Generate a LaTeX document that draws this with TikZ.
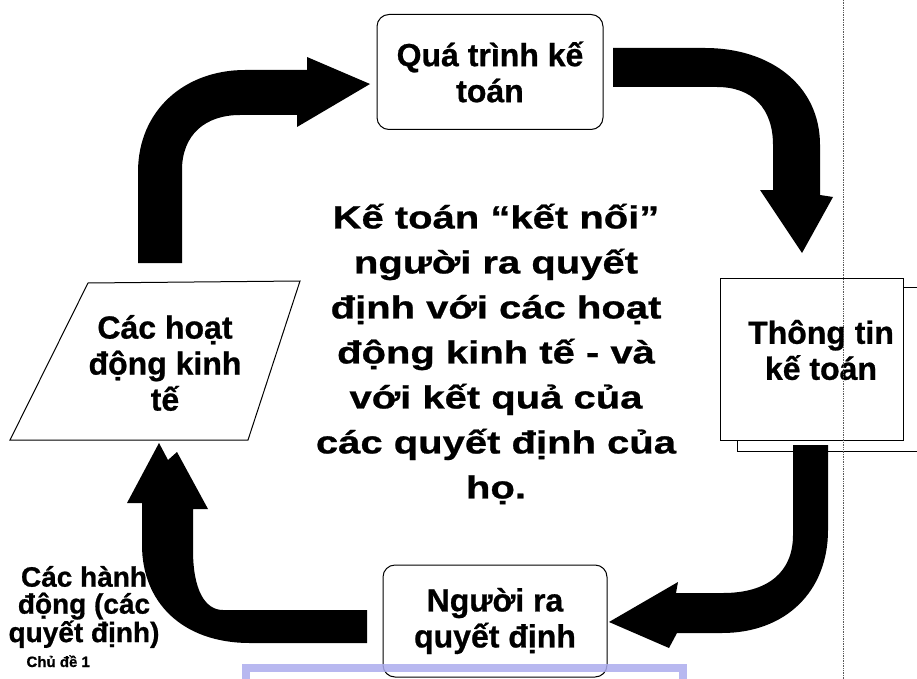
\documentclass[tikz,border=0pt]{standalone}
\usepackage{fontspec}
\setmainfont{Liberation Sans}[BoldFeatures={FakeBold=0.8}]
\newfontfamily\widefont{Liberation Sans}[FakeStretch=1.25, BoldFeatures={FakeBold=0.8}]
\usepackage{xcolor}
\usetikzlibrary{positioning}
\definecolor{BandBlue}{RGB}{172, 172, 238}
\definecolor{ScanGrey}{RGB}{90, 90, 90}

\tikzset{
  roundbox/.style={draw, line width=1pt, rounded corners=12pt, fill=white, align=center,
    font=\bfseries\fontsize{32}{36}\selectfont},
  docbox/.style={draw, line width=1pt, fill=white},
  boxtext/.style={align=center, font=\bfseries\fontsize{32}{36}\selectfont},
  blockarrow/.style={fill=black, draw=none}
}

\begin{document}
\begin{tikzpicture}[x=1pt,y=-1pt]
  \path[use as bounding box] (0,0) rectangle (917,679);
  \fill[white] (0,0) rectangle (917,679);

  % the four steps of the cycle
  \node[roundbox, minimum width=226pt, minimum height=115pt] (proc) at (490,72) {Quá trình kế\\toán};
  \draw[docbox] (737,287) rectangle (925,451);
  \node[docbox, minimum width=183pt, minimum height=162pt] (info) at (811.5,359) {};
  \node[boxtext] (infotext) at (821,350) {Thông tin\\kế toán};
  \node[roundbox, minimum width=224pt, minimum height=112pt] (dec) at (495,621) {Người ra\\quyết định};
  \draw[line width=1pt, fill=white] (88,283) -- (300,281) -- (248,440) -- (10,440) -- cycle;
  \node[boxtext] (act) at (165,363) {Các hoạt\\động kinh\\tế};

  % labels
  \node[align=center, font=\widefont\bfseries\fontsize{32}{45}\selectfont] (msg) at (496,354)
    {Kế toán “kết nối”\\người ra quyết\\định với các hoạt\\động kinh tế - và\\với kết quả của\\các quyết định của\\họ.};
  \node[align=center, font=\bfseries\fontsize{28}{27}\selectfont] (acts) at (84,607)
    {Các hành\\động (các\\quyết định)};
  \node[anchor=base west, font=\bfseries\fontsize{15}{17}\selectfont] (topic) at (23,667) {Chủ đề 1};

  % block arrows
  \fill[blockarrow] (138,263) -- (138,172) .. controls (138,110) and (185,70) .. (245,70)
    -- (307,70) -- (307,57) -- (370,84) -- (297,127) -- (297,115) -- (240,115)
    .. controls (205,115) and (182,135) .. (182,170) -- (182,263) -- cycle;
  \fill[blockarrow] (613,48) -- (705,48) .. controls (770,48) and (820,85) .. (820,145)
    -- (820,195) -- (833,197) -- (802,253) -- (760,190) -- (773,190) -- (773,145)
    .. controls (773,108) and (752,87) .. (717,87) -- (613,87) -- cycle;
  \fill[blockarrow] (793,445) -- (828,445) -- (828,530) .. controls (828,592) and (785,633) .. (722,633)
    -- (677,633) -- (669,648) -- (609,622) -- (678,582) -- (676,593) -- (723,593)
    .. controls (768,593) and (793,572) .. (793,535) -- cycle;
  \fill[blockarrow] (367,610) -- (367,643) -- (250,643) .. controls (182,643) and (142,602) .. (142,545)
    -- (142,503) -- (127,503) -- (159,443) -- (168,460) -- (177,452) -- (208,509) -- (193,509)
    -- (193,550) .. controls (193,590) and (205,610) .. (223,610) -- cycle;

  % frame at the foot and scan fold
  \draw[line width=8pt, BandBlue, opacity=0.85] (246,668) rectangle (683,700);
  \draw[densely dotted, line width=0.7pt, ScanGrey] (843,0) -- (843,679);
\end{tikzpicture}
\end{document}
